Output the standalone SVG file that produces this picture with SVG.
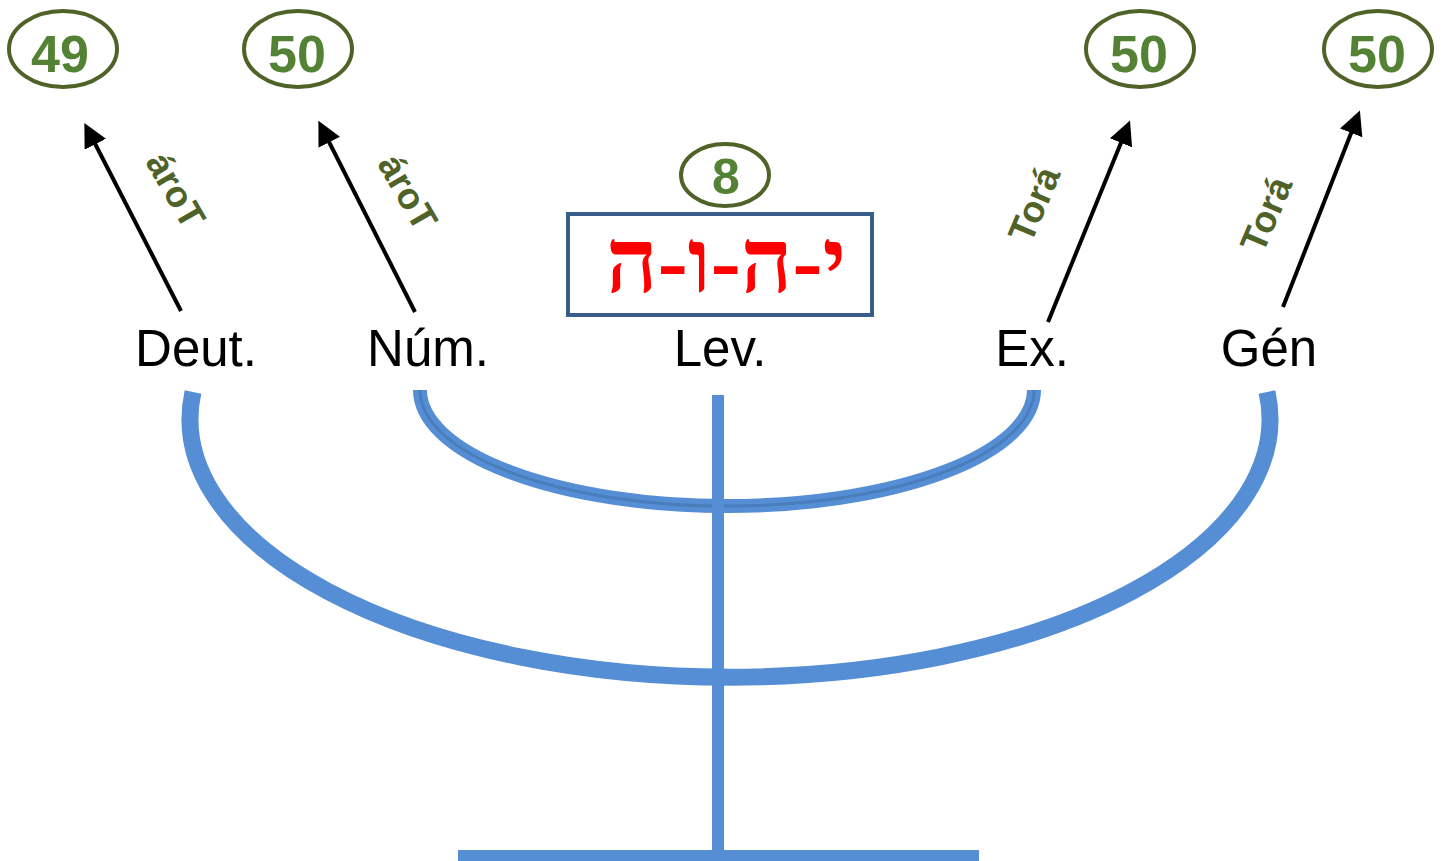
<svg xmlns="http://www.w3.org/2000/svg" width="1445" height="861" viewBox="0 0 1445 861">
<style>
.oval{fill:none;stroke:#4F6228;stroke-width:4}
.num{font-family:"Liberation Sans",Arial,sans-serif;font-weight:bold;font-size:52px;fill:#548235;text-anchor:middle}
.book{font-family:"Liberation Sans",Arial,sans-serif;font-size:51px;fill:#000;text-anchor:middle}
.tora{font-family:"Liberation Sans",Arial,sans-serif;font-weight:bold;font-size:37px;fill:#4F6228;text-anchor:middle}
.arrow{stroke:#000;stroke-width:4;fill:none;marker-end:url(#ah)}
.blue{fill:none;stroke:#558ED5}
</style>
<defs>
<marker id="ah" markerWidth="6" markerHeight="6" refX="4" refY="3" orient="auto" markerUnits="strokeWidth">
<path d="M0,0 L6,3 L0,6 z" fill="#000"/>
</marker>
</defs>
<rect width="1445" height="861" fill="#fff"/>

<g id="menorah">
<path class="blue" d="M 193 392 A 540 258 0 1 0 1267 392" stroke-width="17"/>
<path class="blue" d="M 420 390 A 307 116 0 1 0 1034 390" stroke-width="14"/>
<path d="M 420 390 A 307 116 0 1 0 1034 390" fill="none" stroke="#4A7EBB" stroke-width="3"/>
<line class="blue" x1="718" y1="395" x2="718" y2="861" stroke-width="12"/>
<line class="blue" x1="458" y1="856" x2="979" y2="856" stroke-width="12"/>
</g>

<g id="connectors">
<line class="arrow" x1="181" y1="311" x2="88" y2="130"/>
<line class="arrow" x1="415" y1="312" x2="322" y2="128"/>
<line class="arrow" x1="1048" y1="322" x2="1127" y2="128"/>
<line class="arrow" x1="1283" y1="307" x2="1357" y2="118"/>
</g>

<g id="labels-tora">
<text class="tora" transform="translate(176,190) rotate(60)" y="13">ároT</text>
<text class="tora" transform="translate(408,192) rotate(60)" y="13">ároT</text>
<text class="tora" transform="translate(1034,204) rotate(-67)" y="13">Torá</text>
<text class="tora" transform="translate(1266,214) rotate(-67)" y="13">Torá</text>
</g>

<g id="n49"><ellipse class="oval" cx="63" cy="49" rx="54" ry="38"/><text class="num" x="60" y="72">49</text></g>
<g id="n50a"><ellipse class="oval" cx="298" cy="49" rx="54" ry="38"/><text class="num" x="297" y="72">50</text></g>
<g id="n50b"><ellipse class="oval" cx="1140" cy="49" rx="54" ry="38"/><text class="num" x="1139" y="72">50</text></g>
<g id="n50c"><ellipse class="oval" cx="1378" cy="49" rx="54" ry="38"/><text class="num" x="1377" y="72">50</text></g>
<g id="n8"><ellipse class="oval" cx="725" cy="175" rx="44" ry="31"/><text class="num" x="726" y="194" style="font-size:50px">8</text></g>

<g id="yhwh">
<rect x="568" y="214" width="304" height="101" fill="#fff" stroke="#385D8A" stroke-width="4"/>
<text x="726" y="292" text-anchor="middle" font-family="'Liberation Serif','DejaVu Sans',serif" font-weight="bold" font-size="90" fill="#FF0000">י-ה-ו-ה</text>
</g>

<g id="deut"><text class="book" x="196" y="366">Deut.</text></g>
<g id="num"><text class="book" x="428" y="366">Núm.</text></g>
<g id="lev"><text class="book" x="720" y="366">Lev.</text></g>
<g id="ex"><text class="book" x="1032" y="366">Ex.</text></g>
<g id="gen"><text class="book" x="1269" y="366">Gén</text></g>
</svg>
